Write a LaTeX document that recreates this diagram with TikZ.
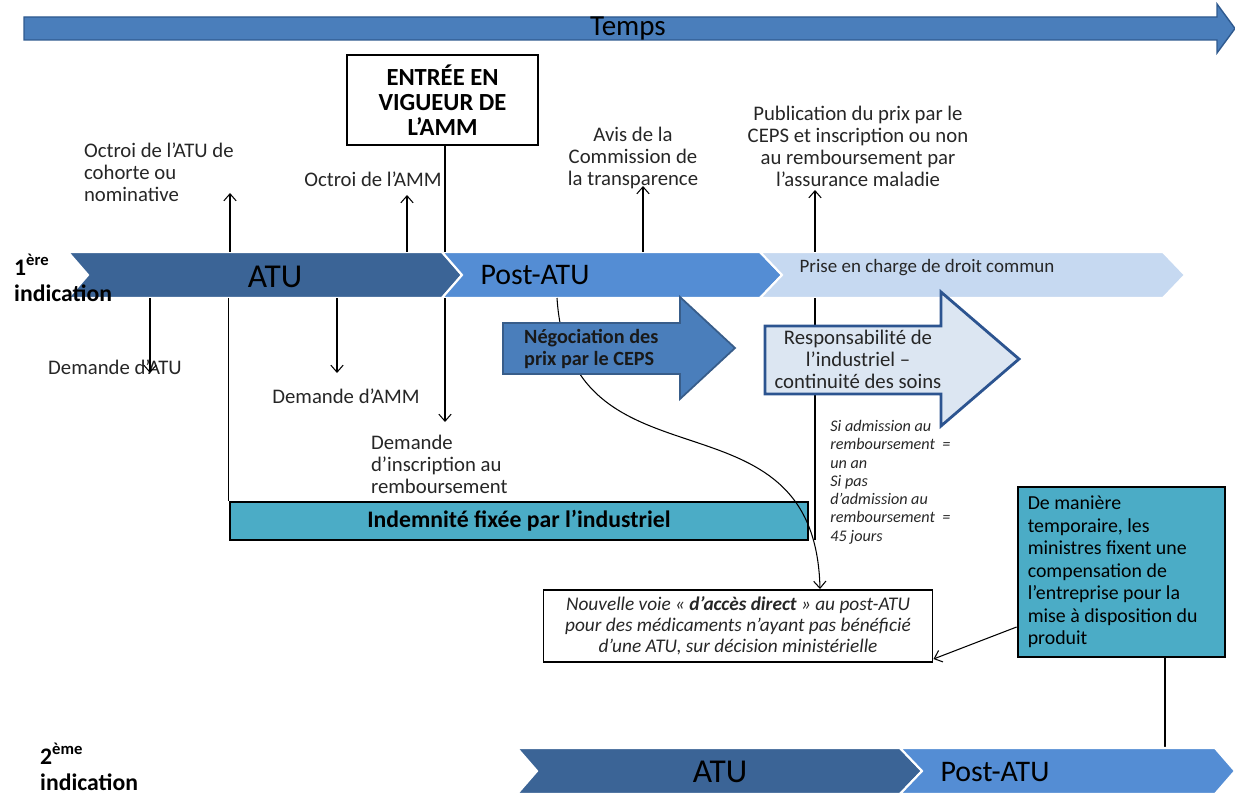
\documentclass[tikz,border=0pt]{standalone}
\usepackage{fontspec}
\setmainfont{Carlito}
\usepackage{xcolor}
\definecolor{atudark}{HTML}{3B6496}
\definecolor{atupost}{HTML}{548DD4}
\definecolor{atuprise}{HTML}{C6D9F1}
\definecolor{tempsblue}{HTML}{4A7EBB}
\definecolor{tempsedge}{HTML}{2F5A8F}
\definecolor{negoblue}{HTML}{4A7EBB}
\definecolor{negoedge}{HTML}{385D8A}
\definecolor{respfill}{HTML}{DCE6F2}
\definecolor{respedge}{HTML}{2C5490}
\definecolor{indteal}{HTML}{4BACC6}
\definecolor{txtgrey}{HTML}{262626}
\usetikzlibrary{arrows.meta, positioning}

\begin{document}
\begin{tikzpicture}[
    x=0.02cm, y=-0.02cm,
    lbl/.style={font=\fontsize{11.8}{12.5}\selectfont, text=txtgrey, align=center, inner sep=1pt},
    arr/.style={-{Straight Barb[length=4pt,width=7pt]}, line width=0.6pt},
    tick/.style={line width=0.6pt},
    chev/.style={fill=#1, draw=white, line width=1.2pt},
    tealbox/.style={draw=black, line width=1.6pt, fill=indteal, inner sep=4pt},
    bandbig/.style={font=\fontsize{19}{22}\selectfont, text=black},
    bandmid/.style={font=\fontsize{17}{20}\selectfont, text=black},
    indic/.style={font=\bfseries\fontsize{13.5}{15}\selectfont, align=left, anchor=west}
]
\useasboundingbox (0,0) rectangle (1235,794);

% Temps
\path[fill=tempsblue, draw=tempsedge, line width=0.8pt] (24,17) -- (1217,17) -- (1217,4) -- (1235,28.5) -- (1217,53) -- (1217,40) -- (24,40) -- cycle;
\node[font=\fontsize{16.5}{19}\selectfont] (temps) at (628,29) {Temps};

% Entree en vigueur
\node[draw=black, line width=1.6pt, minimum width=3.82cm, minimum height=1.8cm, font=\bfseries\fontsize{14}{14.3}\selectfont, align=center] (entree) at (442.5,100) {ENTRÉE EN\\VIGUEUR DE\\L’AMM};

% 1ere indication
\node[minimum width=22.34cm, minimum height=0.92cm, inner sep=0] (band1) at (626.5,275) {};
\path[chev=atudark] (68,252) -- (442,252) -- (462,275) -- (442,298) -- (68,298) -- (88,275) -- cycle;
\path[chev=atupost] (442,252) -- (760,252) -- (782,275) -- (760,298) -- (442,298) -- (462,275) -- cycle;
\path[chev=atuprise] (760,252) -- (1163,252) -- (1185,275) -- (1163,298) -- (760,298) -- (782,275) -- cycle;
\node[bandbig] (atuA) at (275,277) {ATU};
\node[bandmid] (postA) at (535,275) {Post-ATU};
\node[font=\fontsize{10.8}{12}\selectfont, text=txtgrey] (priseA) at (927,268) {Prise en charge de droit commun};
\node[indic] (ind1) at (8,278) {1\textsuperscript{ère}\\indication};

% Etapes au-dessus
\node[lbl, align=left, anchor=west] (octatu) at (82,172) {Octroi de l’ATU de\\cohorte ou\\nominative};
\node[lbl] (octamm) at (373,179) {Octroi de l’AMM};
\node[lbl] (avis) at (633,158) {Avis de la\\Commission de\\la transparence};
\node[lbl] (publi) at (858,146) {Publication du prix par le\\CEPS et inscription ou non\\au remboursement par\\l’assurance maladie};

% Etapes au-dessous
\node[lbl] (dematu) at (115,367) {Demande d’ATU};
\node[lbl] (demamm) at (346,396) {Demande d’AMM};
\node[lbl, align=left, anchor=west] (deminscr) at (369,464) {Demande\\d’inscription au\\remboursement};

% Indemnite
\node[tealbox, minimum width=11.56cm, minimum height=0.76cm, font=\bfseries\fontsize{13.5}{15}\selectfont] (indem) at (519,521) {Indemnité fixée par l’industriel};

% Pointes des fleches
\coordinate (upOA) at (230,193);
\coordinate (upOM) at (407,195);
\coordinate (upAV) at (643,186);
\coordinate (upPB) at (815,190);
\coordinate (dnDA) at (150,373);
\coordinate (dnDM) at (337,373);
\coordinate (dnDI) at (445,422);
\coordinate (dnPB) at (815,540);
\coordinate (cvA) at (557,298);
\coordinate (cvB) at (820,589);

\draw[arr] (band1.north -| upOA) -- (upOA);
\draw[arr] (band1.north -| upOM) -- (upOM);
\draw[arr] (band1.north -| upAV) -- (upAV);
\draw[arr] (band1.north -| upPB) -- (upPB);
\draw[tick] (entree.south -| dnDI) -- (band1.north -| dnDI);
\draw[arr] (band1.south -| dnDA) -- (dnDA);
\draw[arr] (band1.south -| dnDM) -- (dnDM);
\draw[arr] (band1.south -| dnDI) -- (dnDI);
\draw[tick] (band1.south -| indem.north west) -- (indem.north west);
\draw[tick] (band1.south -| dnPB) -- (dnPB);

% Nouvelle voie
\node[draw=black, line width=0.6pt, minimum width=7.8cm, minimum height=1.44cm, font=\itshape\fontsize{11}{12}\selectfont, align=center, text=txtgrey] (nouv) at (738,626) {Nouvelle voie « \textbf{d’accès direct} » au post-ATU\\pour des médicaments n’ayant pas bénéficié\\d’une ATU, sur décision ministérielle};
\draw[arr] (cvA) .. controls (570,500) and (815,380) .. (cvB);

% Negociation
\path[fill=negoblue, draw=negoedge, line width=1pt] (503,323) -- (680,323) -- (680,297) -- (735,348) -- (680,399) -- (680,374) -- (503,374) -- cycle;
\node[font=\bfseries\fontsize{11.5}{12.5}\selectfont, align=left, anchor=west, text=black!90] (nego) at (518,349) {Négociation des\\prix par le CEPS};

% Responsabilite
\path[fill=respfill, draw=respedge, line width=1.6pt] (765,326) -- (941,326) -- (941,292) -- (1019,359) -- (941,426) -- (941,394) -- (765,394) -- cycle;
\node[lbl, font=\fontsize{11.8}{12.5}\selectfont] (resp) at (858,359) {Responsabilité de\\l’industriel –\\continuité des soins};
\node[font=\itshape\fontsize{9.2}{10.4}\selectfont, align=left, anchor=north west, text=txtgrey, inner sep=0] (delai) at (830,420) {Si admission au\\remboursement \ =\\un an\\Si pas\\d’admission au\\remboursement \ =\\45 jours};

% Decision ministerielle
\node[tealbox, minimum width=4.14cm, minimum height=3.4cm, text width=3.75cm, align=flush left, font=\fontsize{11.3}{12.8}\selectfont] (demani) at (1121.5,572) {De manière\\temporaire, les\\ministres fixent une\\compensation de\\l’entreprise pour la\\mise à disposition du\\produit};
\coordinate (dmA) at (1018,627);
\coordinate (nvB) at (935,659);
\coordinate (lnD) at (1165,0);
\draw[arr] (demani.west |- dmA) -- (nouv.east |- nvB);

% 2eme indication
\node[minimum width=14.36cm, minimum height=0.92cm, inner sep=0] (band2) at (876,771) {};
\draw[tick] (demani.south -| lnD) -- (band2.north -| lnD);
\path[chev=atudark] (517,748) -- (900,748) -- (922,771) -- (900,794) -- (517,794) -- (537,771) -- cycle;
\path[chev=atupost] (900,748) -- (1215,748) -- (1235,771) -- (1215,794) -- (900,794) -- (922,771) -- cycle;
\node[bandbig] (atuB) at (720,772) {ATU};
\node[bandmid] (postB) at (995,772) {Post-ATU};
\node[indic] (ind2) at (34,767) {2\textsuperscript{ème}\\indication};

\end{tikzpicture}
\end{document}
